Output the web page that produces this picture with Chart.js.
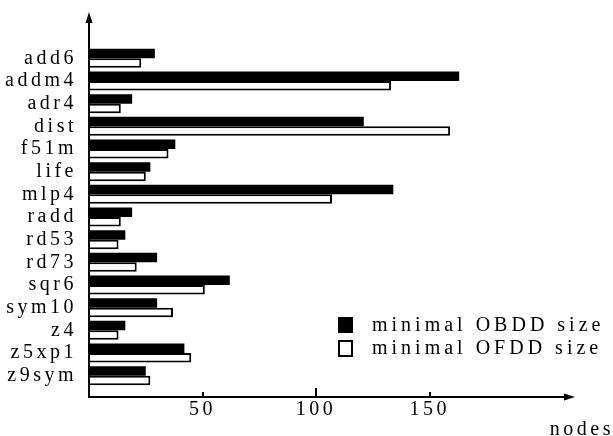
<!DOCTYPE html>
<html>
<head>
<meta charset="utf-8">
<script src="https://cdn.jsdelivr.net/npm/chart.js@4"></script>
<style>
  body { margin: 0; background: #fff; }
  #wrap { width: 613px; height: 436px; }
</style>
</head>
<body>
<div id="wrap"><canvas id="chart" width="613" height="436"></canvas></div>
<script>
var categories = ['add6', 'addm4', 'adr4', 'dist', 'f51m', 'life', 'mlp4', 'radd',
                  'rd53', 'rd73', 'sqr6', 'sym10', 'z4', 'z5xp1', 'z9sym'];
var obddSize = [29, 163, 19, 121, 38, 27, 134, 19, 16, 30, 62, 30, 16, 42, 25];
var ofddSize = [23, 133, 14, 159, 35, 25, 107, 14, 13, 21, 51, 37, 13, 45, 27];
var xTicks = [50, 100, 150];
var seriesNames = ['minimal OBDD size', 'minimal OFDD size'];
var xTitle = 'nodes';

var FONT = '"Liberation Serif", "DejaVu Serif", serif';
var SPACING = '3.5px';

// axes with arrows, small tick marks, legend and axis title
var decor = {
  id: 'decor',
  beforeUpdate: function (chart) { chart.ctx.letterSpacing = SPACING; },
  beforeDraw: function (chart) { chart.ctx.letterSpacing = SPACING; },
  afterDraw: function (chart) {
    var ctx = chart.ctx, area = chart.chartArea, x = chart.scales.x;
    var axisY = area.bottom + 10, x0 = area.left;
    ctx.save();
    ctx.strokeStyle = '#000';
    ctx.fillStyle = '#000';
    ctx.lineWidth = 2;
    // x axis
    ctx.beginPath();
    ctx.moveTo(x0 - 1, axisY);
    ctx.lineTo(area.right - 4, axisY);
    ctx.stroke();
    ctx.beginPath();
    ctx.moveTo(area.right, axisY);
    ctx.lineTo(area.right - 11, axisY - 3.5);
    ctx.lineTo(area.right - 11, axisY + 3.5);
    ctx.closePath();
    ctx.fill();
    // y axis
    ctx.beginPath();
    ctx.moveTo(x0, axisY + 1);
    ctx.lineTo(x0, 17);
    ctx.stroke();
    ctx.beginPath();
    ctx.moveTo(x0, 12);
    ctx.lineTo(x0 - 3.5, 23);
    ctx.lineTo(x0 + 3.5, 23);
    ctx.closePath();
    ctx.fill();
    // tick marks
    xTicks.forEach(function (v) {
      var px = Math.round(x.getPixelForValue(v));
      var len = v % 100 === 0 ? 9 : 5;
      ctx.beginPath();
      ctx.moveTo(px, axisY);
      ctx.lineTo(px, axisY - len);
      ctx.stroke();
    });
    // axis title
    ctx.letterSpacing = SPACING;
    ctx.font = '20px ' + FONT;
    ctx.textAlign = 'right';
    ctx.textBaseline = 'alphabetic';
    ctx.fillText(xTitle, 614, 435);
    // legend
    var ds = chart.data.datasets;
    var lx = 338, ly = [317, 340];
    ctx.letterSpacing = '4px';
    ds.forEach(function (d, i) {
      if (i === 0) {
        ctx.fillRect(lx, ly[i], 15, 16);
      } else {
        ctx.lineWidth = 2;
        ctx.strokeRect(lx + 1, ly[i] + 1, 13, 15);
      }
      ctx.textAlign = 'left';
      ctx.textBaseline = 'alphabetic';
      ctx.fillText(d.label, 372, ly[i] + 14);
    });
    ctx.restore();
  }
};

var ctx = document.getElementById('chart').getContext('2d');
var myChart = new Chart(ctx, {
  type: 'bar',
  data: {
    labels: categories,
    datasets: [{
      label: seriesNames[0],
      data: obddSize,
      backgroundColor: '#000',
      borderWidth: 0
    }, {
      label: seriesNames[1],
      data: ofddSize,
      backgroundColor: '#fff',
      borderColor: '#000',
      borderWidth: 2
    }]
  },
  options: {
    indexAxis: 'y',
    responsive: false,
    animation: false,
    categoryPercentage: 0.84,
    barPercentage: 1,
    layout: { padding: { top: 47, right: 38, left: 0, bottom: 0 } },
    plugins: { legend: { display: false }, tooltip: { enabled: false } },
    scales: {
      x: {
        min: 0,
        max: 214,
        afterBuildTicks: function (s) { s.ticks = xTicks.map(function (v) { return { value: v }; }); },
        afterFit: function (s) { s.height = 49; },
        grid: { display: false },
        border: { display: false },
        ticks: { color: '#000', padding: 3, maxRotation: 0, font: { family: FONT, size: 20 } }
      },
      y: {
        afterFit: function (s) { s.width = 89; },
        grid: { display: false },
        border: { display: false },
        ticks: { color: '#000', padding: 4, autoSkip: false, font: { family: FONT, size: 20 } }
      }
    }
  },
  plugins: [decor]
});
</script>
</body>
</html>
